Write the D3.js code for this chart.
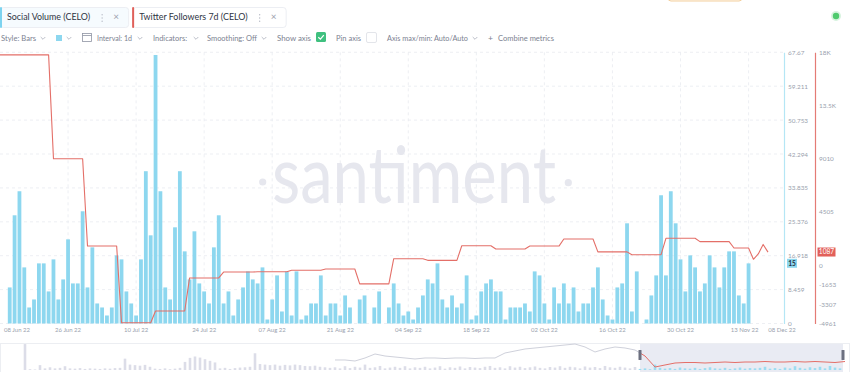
<!DOCTYPE html>
<html>
<head>
<meta charset="utf-8">
<script src="https://cdn.jsdelivr.net/npm/d3@7"></script>
<style>
  body { margin: 0; background: #fff; }
  svg  { display: block; font-family: Lato, "Open Sans", sans-serif; }
</style>
</head>
<body>
<svg id="chart" width="850" height="372"></svg>
<script>
/* ── Data ──────────────────────────────────────────────────── */
// Social Volume (CELO), daily, 14 Jun 22 → 13 Nov 22
const volumeStart = new Date(2022, 5, 14);
const socialVolume = [
  9, 27, 33, 14, 4, 6, 15, 15, 8, 16, 6, 11, 21, 10, 10, 28, 9, 19, 5, 4,
  2, 4, 17, 16, 8, 5, 2, 16, 38, 22, 67, 33, 9, 6, 24, 38, 18, 11, 23, 10,
  8, 5, 19, 27, 5, 8, 2, 6, 9, 13, 11, 10, 14, 1, 6, 12, 3, 13, 2, 13,
  1, 2, 5, 5, 12, 2, 5, 5, 2, 7, 4, 0, 6, 7, 0, 4, 8, 0, 4, 10,
  5, 2, 3, 1, 4, 7, 11, 10, 15, 6, 4, 7, 4, 5, 12, 1, 2, 8, 10, 11,
  8, 8, 1, 4, 4, 4, 5, 3, 13, 12, 5, 1, 9, 5, 10, 5, 9, 3, 5, 5,
  9, 14, 6, 2, 1, 9, 10, 25, 3, 13, 0, 1, 7, 12, 32, 12, 33, 25, 16, 8,
  17, 14, 8, 10, 17, 14, 9, 14, 18, 18, 7, 5, 15
];

// Twitter Followers 7d (CELO), daily, 12 Jun 22 → 17 Nov 22
const followersStart = new Date(2022, 5, 12);
const followers7d = [
  17800, 17800, 17800, 17800, 17800, 17800, 17800, 17800, 17800, 17800, 17800,
  9000, 9000, 9000, 9000, 9000, 9000, 9000,
  1600, 1600, 1600, 1600, 1600, 1600, 1600,
  -4900, -4900, -4900, -4900, -4900, -4900, -4900,
  -3900, -3900, -3900, -3900, -3900, -3900, -3900,
  -1100, -1100, -1100, -1100, -1100, -1100, -1100,
  -600, -600, -600, -600, -600, -600, -600,
  -580, -580, -580, -580, -580, -580, -580,
  -450, -450, -450, -450, -450, -450, -450,
  -340, -340, -340, -340, -340, -340, -340,
  -1600, -1600, -1600, -1600, -1600, -1600, -1600,
  530, 530, 530, 530, 530, 530, 530,
  390, 390, 390, 390, 390, 390, 390,
  1630, 1630, 1630, 1630, 1630, 1630, 1630,
  1350, 1350, 1350, 1350, 1350, 1350, 1350,
  1600, 1600, 1600, 1600, 1600, 1600, 1600,
  2200, 2200, 2200, 2200, 2200, 2200, 2200,
  1110, 1110, 1110, 1110, 1110, 1110, 1110,
  870, 870, 870, 870, 870, 870, 870,
  2260, 2260, 2260, 2260, 2260, 2260, 2260,
  1980, 1980, 1980, 1980, 1980, 1980, 1980,
  1440, 1440, 1440, 1440,
  480, 930, 1740, 1087
];

const volumeTicks      = [0, 8.459, 16.918, 25.376, 33.835, 42.294, 50.753, 59.211, 67.67];
const volumeTickLabels = ['0', '8.459', '16.918', '25.376', '33.835', '42.294', '50.753', '59.211', '67.67'];
const followerTicks      = [-4961, -3307, -1653, 0, 4505, 9010, 13515, 18020];
const followerTickLabels = ['-4961', '-3307', '-1653', '0', '4505', '9010', '13.5K', '18K'];

const dateTicks  = ['2022-06-26', '2022-07-10', '2022-07-24', '2022-08-07', '2022-08-21',
                    '2022-09-04', '2022-09-18', '2022-10-02', '2022-10-16', '2022-10-30', '2022-11-13'];
const edgeLabels = ['08 Jun 22', '08 Dec 22'];

// navigator (full history, coarse samples) — bar heights in % of strip height
const navVolume = [
  96, 3, 2, 18, 6, 10, 6, 8, 14, 6, 5, 7, 4, 6, 5, 4, 6, 5, 7, 8,
  42, 20, 18, 16, 19, 12, 5, 4, 6, 3, 5, 8, 30, 45, 50, 46, 40, 34, 28, 6,
  8, 4, 7, 9, 10, 12, 62, 22, 20, 18, 20, 16, 19, 17, 20, 18, 15, 14, 16, 12,
  10, 8, 10, 6, 14, 7, 12, 9, 20, 8, 10, 15, 6, 9, 12, 8, 14, 6, 10, 8,
  12, 6, 9, 14, 5, 10, 8, 13, 6, 11, 9, 7, 12, 15, 8, 10, 6, 14, 9, 12,
  7, 10, 13, 8, 6, 11, 9, 14, 8, 12, 10, 6, 13, 9, 11, 7, 15, 10, 8, 12,
  9, 6, 11, 4, 6, 3, 20, 8, 5, 7, 4, 9, 6, 5, 8, 4, 7, 10, 6, 5,
  8, 4, 6, 9, 5, 7, 6, 8, 12, 5, 7, 4, 9, 6, 14, 8, 5, 10, 7, 12,
  6, 15, 9, 6
];
const navFollowers = [
  5030, 5030, 3610, 7870, 13540, 10700, 9280, 7870, 6450, 7870,
  7870, 7160, 7870, 7870, 7160, 7870, 7870, 14960, 17800, 20630,
  22050, 23470, 24890, 26300, 27720, 23470, 16380, 20630, 23470, 22050,
  19210, 10700, -4900, -2060, 770, 1480, 1480, 770, 1480, 2190,
  1480, 2190, 2190, 2900, 2190, 2190, 2900, 2190, 2900, 2190,
  1480, 2900
];

const chips = [
  { label: 'Social Volume (CELO)',        color: '#7dd3ef' },
  { label: 'Twitter Followers 7d (CELO)', color: '#e0605a' }
];

/* ── Colours ───────────────────────────────────────────────── */
const BAR   = '#8dd7ef';
const LINE  = '#e46f68';
const GRID  = '#e9ebf0';
const MUTED = '#9a9fae';
const TEXT  = '#7c8291';

/* ── Scaffolding ───────────────────────────────────────────── */
const svg = d3.select('#chart');
const dayMs = 864e5;
const volData = socialVolume.map((v, i) => ({ date: new Date(+volumeStart + i * dayMs), v }));
const folData = followers7d.map((v, i) => ({ date: new Date(+followersStart + i * dayMs), v }));

const TOP = 52.3, BOT = 323.5;
const x    = d3.scaleTime().domain([new Date(2022, 5, 12), new Date(2022, 10, 17)]).range([0, 768]);
const yVol = d3.scaleLinear().domain([0, 67.67]).range([BOT, TOP]);
const yFol = d3.scaleLinear().domain([-4961, 18020]).range([BOT, TOP]);
const AXIS_VOL_X = 784, AXIS_FOL_X = 815;

/* ── Header: metric chips ──────────────────────────────────── */
let cx = 0;
chips.forEach((c, i) => {
  const g = svg.append('g').attr('transform', `translate(${cx},7)`);
  const t = g.append('text')
    .attr('x', 7).attr('y', 13)
    .attr('font-size', 8.9).attr('fill', '#2e3443')
    .text(c.label);
  const tw = t.node().getComputedTextLength();
  const w  = tw + 45;
  g.insert('rect', 'text')
    .attr('x', 0.5).attr('y', 0.5).attr('width', w).attr('height', 20)
    .attr('rx', 3).attr('fill', i === 0 ? '#f6fbfe' : '#fff')
    .attr('stroke', '#eceef3');
  g.insert('rect', 'text')
    .attr('x', 0).attr('y', 0).attr('width', 2).attr('height', 21)
    .attr('rx', 1).attr('fill', c.color);
  [-1, 1.3, 3.6].forEach(dy => g.append('circle')
    .attr('cx', tw + 19).attr('cy', 9.2 + dy * 1.4).attr('r', 0.7).attr('fill', '#b7bbc6'));
  g.append('text')
    .attr('x', tw + 33).attr('y', 13).attr('text-anchor', 'middle')
    .attr('font-size', 10).attr('fill', '#9da2ae').text('×');
  cx += w + 4;
});

// status dot, top right
svg.append('circle').attr('cx', 836).attr('cy', 16).attr('r', 5).attr('fill', '#d7f3de');
svg.append('circle').attr('cx', 836).attr('cy', 16).attr('r', 3.2).attr('fill', '#4fca6d');
// cut-off notice at the very top
svg.append('rect').attr('x', 668).attr('y', -12).attr('width', 74).attr('height', 13)
  .attr('rx', 3).attr('fill', '#fffaf2').attr('stroke', '#f3cf9d');

/* ── Toolbar ───────────────────────────────────────────────── */
const tb = svg.append('g').attr('font-size', 7.8).attr('fill', TEXT);
const caret = (xx) => tb.append('path')
  .attr('d', `M${xx - 2.3},37 L${xx},39.3 L${xx + 2.3},37`)
  .attr('fill', 'none').attr('stroke', '#a9adba').attr('stroke-width', 0.8);
const tbText = (xx, s, w) => tb.append('text').attr('x', xx).attr('y', 40.8)
  .attr('textLength', w).attr('lengthAdjust', 'spacingAndGlyphs').text(s);

tbText(1, 'Style: Bars', 35);             caret(43);
tb.append('rect').attr('x', 56).attr('y', 35).attr('width', 6).attr('height', 6).attr('fill', BAR);
caret(69);
tb.append('rect').attr('x', 82.5).attr('y', 33.5).attr('width', 9).attr('height', 8)
  .attr('fill', 'none').attr('stroke', '#8f94a3').attr('stroke-width', 0.8);
tb.append('line').attr('x1', 82.5).attr('x2', 91.5).attr('y1', 35.5).attr('y2', 35.5)
  .attr('stroke', '#8f94a3').attr('stroke-width', 0.8);
tbText(97, 'Interval: 1d', 35);           caret(140);
tbText(153, 'Indicators:', 34);           caret(196);
tbText(207, 'Smoothing: Off', 50);        caret(264);
tbText(277, 'Show axis', 34);
tb.append('rect').attr('x', 316).attr('y', 32).attr('width', 10).attr('height', 10)
  .attr('rx', 1.5).attr('fill', '#3fc07f');
tb.append('path').attr('d', 'M318.3,37.2 L320.4,39.2 L323.8,35.2')
  .attr('fill', 'none').attr('stroke', '#fff').attr('stroke-width', 1.2);
tbText(336, 'Pin axis', 25);
tb.append('rect').attr('x', 366.5).attr('y', 32.5).attr('width', 10).attr('height', 10)
  .attr('rx', 1.5).attr('fill', '#fff').attr('stroke', '#e3e5ea');
tbText(387, 'Axis max/min: Auto/Auto', 81); caret(475);
tbText(488, '+', 5);
tbText(498, 'Combine metrics', 56);

/* ── Grid ──────────────────────────────────────────────────── */
const grid = svg.append('g').attr('stroke', GRID).attr('stroke-dasharray', '3,3').attr('stroke-width', 0.8);
grid.selectAll('line.h').data(volumeTicks).join('line')
  .attr('x1', 0).attr('x2', AXIS_VOL_X)
  .attr('y1', d => yVol(d)).attr('y2', d => yVol(d));
grid.selectAll('line.v').data(dateTicks).join('line')
  .attr('x1', d => x(new Date(d + 'T00:00'))).attr('x2', d => x(new Date(d + 'T00:00')))
  .attr('y1', TOP).attr('y2', BOT);

/* ── Watermark ─────────────────────────────────────────────── */
const wm = svg.append('g').attr('fill', '#e6e7ee');
wm.append('text')
  .attr('x', 414).attr('y', 203).attr('text-anchor', 'middle')
  .attr('font-size', 80).attr('font-weight', 400)
  .attr('textLength', 284).attr('lengthAdjust', 'spacingAndGlyphs')
  .text('santiment');
wm.append('circle').attr('cx', 262.7).attr('cy', 182).attr('r', 3.6);
wm.append('circle').attr('cx', 568.3).attr('cy', 182.7).attr('r', 3.6);

/* ── Bars ──────────────────────────────────────────────────── */
const BW = 3.8;
svg.append('g').selectAll('rect').data(volData).join('rect')
  .attr('x', d => x(d.date) - BW / 2).attr('width', BW)
  .attr('y', d => yVol(d.v)).attr('height', d => BOT - yVol(d.v))
  .attr('fill', BAR);

/* ── Line ──────────────────────────────────────────────────── */
svg.append('path').datum(folData)
  .attr('d', d3.line().x(d => x(d.date)).y(d => yFol(d.v)))
  .attr('fill', 'none').attr('stroke', LINE).attr('stroke-width', 1.1)
  .attr('stroke-linejoin', 'round');

/* ── Axes ──────────────────────────────────────────────────── */
function styleAxis(g, col) {
  g.select('.domain').attr('stroke', col).attr('stroke-width', 1.2);
  g.selectAll('.tick line').remove();
  g.selectAll('.tick text').attr('fill', MUTED).attr('font-size', 6.4)
    .attr('font-family', 'Lato, sans-serif');
}
svg.append('g')
  .attr('transform', `translate(${AXIS_VOL_X},0)`)
  .call(d3.axisRight(yVol).tickValues(volumeTicks).tickSize(0).tickPadding(4)
    .tickFormat((d, i) => volumeTickLabels[i]))
  .call(g => styleAxis(g, '#b5e6f5'));
svg.append('g')
  .attr('transform', `translate(${AXIS_FOL_X},0)`)
  .call(d3.axisRight(yFol).tickValues(followerTicks).tickSize(0).tickPadding(4)
    .tickFormat((d, i) => followerTickLabels[i]))
  .call(g => styleAxis(g, '#e47b75'));

// last-value markers
const lastVol = volData[volData.length - 1];
const lastFol = folData[folData.length - 1];
svg.append('rect').attr('x', 787).attr('y', yVol(lastVol.v) - 4.6)
  .attr('width', 10).attr('height', 9).attr('fill', BAR);
svg.append('text').attr('x', 792).attr('y', yVol(lastVol.v) + 2.3)
  .attr('text-anchor', 'middle').attr('font-size', 6.6).attr('font-weight', 700)
  .attr('fill', '#26303e').text(lastVol.v);
svg.append('rect').attr('x', 817.5).attr('y', yFol(lastFol.v) - 4.6)
  .attr('width', 18).attr('height', 9).attr('fill', '#e2605a');
svg.append('text').attr('x', 826.5).attr('y', yFol(lastFol.v) + 2.3)
  .attr('text-anchor', 'middle').attr('font-size', 6.6)
  .attr('fill', '#fff').text(lastFol.v);

// date labels
const xl = svg.append('g').attr('font-size', 6).attr('fill', MUTED).attr('text-anchor', 'middle');
xl.selectAll('text.d').data(dateTicks).join('text')
  .attr('x', d => x(new Date(d + 'T00:00')) - (d === '2022-11-13' ? 4 : 0))
  .attr('y', 332)
  .text(d => d3.timeFormat('%d %b %y')(new Date(d + 'T00:00')));
xl.append('text').attr('x', 17).attr('y', 332).text(edgeLabels[0]);
xl.append('text').attr('x', 782).attr('y', 332).text(edgeLabels[1]);

/* ── Navigator ─────────────────────────────────────────────── */
const SEL_X0 = 640, SEL_X1 = 843;
const nav = svg.append('g');
nav.append('rect').attr('x', 0.5).attr('y', 343.5).attr('width', 849).attr('height', 40)
  .attr('fill', 'none').attr('stroke', '#eceef2');
nav.append('rect').attr('x', SEL_X0).attr('y', 344).attr('width', SEL_X1 - SEL_X0).attr('height', 28)
  .attr('fill', '#e9ebf3');

const nx    = d3.scaleLinear().domain([0, navVolume.length - 1]).range([25, 840]);
const nyVol = d3.scaleLinear().domain([0, 100]).range([370, 343]);
nav.append('g').selectAll('rect').data(navVolume).join('rect')
  .attr('x', (d, i) => nx(i) - 1.3).attr('width', 2.6)
  .attr('y', d => nyVol(d)).attr('height', d => 370 - nyVol(d))
  .attr('fill', (d, i) => nx(i) >= SEL_X0 ? '#9bdcf1' : '#dcdde8');

const nxLine = d3.scaleLinear().domain([0, navFollowers.length - 1]).range([335, 845]);
const nyFol  = d3.scaleLinear().domain([-4900, 27720]).range([367, 344]);
const navLine = d3.line().x((d, i) => nxLine(i)).y(d => nyFol(d));
svg.append('clipPath').attr('id', 'navOut')
  .append('rect').attr('x', 0).attr('y', 340).attr('width', SEL_X0).attr('height', 40);
svg.append('clipPath').attr('id', 'navIn')
  .append('rect').attr('x', SEL_X0).attr('y', 340).attr('width', 850 - SEL_X0).attr('height', 40);
nav.append('path').datum(navFollowers).attr('d', navLine)
  .attr('clip-path', 'url(#navOut)')
  .attr('fill', 'none').attr('stroke', '#cfd1db').attr('stroke-width', 1);
nav.append('path').datum(navFollowers).attr('d', navLine)
  .attr('clip-path', 'url(#navIn)')
  .attr('fill', 'none').attr('stroke', LINE).attr('stroke-width', 1);

[SEL_X0, SEL_X1].forEach(hx => nav.append('rect')
  .attr('x', hx - 1.5).attr('y', 350).attr('width', 3).attr('height', 10).attr('rx', 0.5)
  .attr('fill', '#6c7080'));
</script>
</body>
</html>
